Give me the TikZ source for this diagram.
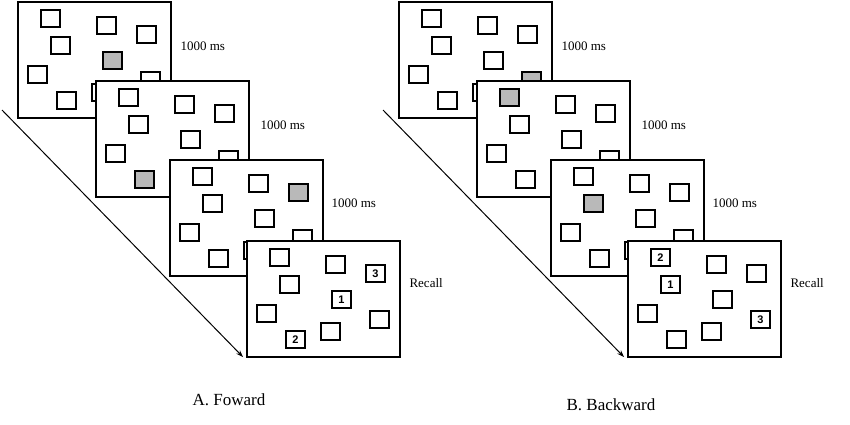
\documentclass[tikz,border=0pt]{standalone}
\usepackage{fontspec}
\usetikzlibrary{arrows.meta}
\setmainfont{Liberation Serif}
\newfontfamily\numf{Liberation Sans}
\begin{document}
\begin{tikzpicture}[x=1pt,y=-1pt,
  frame/.style={draw=black,fill=white,line width=1.3pt},
  sq/.style={draw=black,fill=white,line width=1.8pt,minimum width=19pt,minimum height=17pt,inner sep=0pt,anchor=north west,font=\numf\bfseries\fontsize{11}{11}\selectfont},
  gsq/.style={sq,fill=gray!55},
  lab/.style={font=\fontsize{13}{13}\selectfont,anchor=west},
  captxt/.style={font=\fontsize{17}{17}\selectfont}]
\useasboundingbox (0,0) rectangle (850,424);
\foreach \P/\pn in {0/a,381/b}{
  \coordinate (\pn s) at (\P+2,110);
  \coordinate (\pn e) at (\P+243,357);
  \draw[line width=1pt,-{Stealth[length=7pt,width=5pt]}] (\pn s) -- (\pn e);
}
% Panel A
\foreach \k/\fx/\fy/\g in {1/18/2/5,2/96/81/8,3/170/160/3}{
  \begin{scope}[shift={(\fx,\fy)}]
    \draw[frame] (0,0) rectangle (153,116);
    \foreach \i/\dx/\dy in {1/22/7,2/78/14,3/118/23,4/32/34,5/84/49,6/9/63,7/122/69,8/38/89,9/73/81}{
      \ifnum\i=\g\relax\node[gsq] (a\k s\i) at (\dx,\dy) {};\else\node[sq] (a\k s\i) at (\dx,\dy) {};\fi}
  \end{scope}}
\begin{scope}[shift={(247,241)}]
  \draw[frame] (0,0) rectangle (153,116);
  \foreach \i/\dx/\dy/\t in {1/22/7/,2/78/14/,3/118/23/3,4/32/34/,5/84/49/1,6/9/63/,7/122/69/,8/38/89/2,9/73/81/}{
    \node[sq] (a4s\i) at (\dx,\dy) {\t};}
\end{scope}
% Panel B
\foreach \k/\fx/\fy/\g in {1/399/2/7,2/477/81/1,3/551/160/4}{
  \begin{scope}[shift={(\fx,\fy)}]
    \draw[frame] (0,0) rectangle (153,116);
    \foreach \i/\dx/\dy in {1/22/7,2/78/14,3/118/23,4/32/34,5/84/49,6/9/63,7/122/69,8/38/89,9/73/81}{
      \ifnum\i=\g\relax\node[gsq] (b\k s\i) at (\dx,\dy) {};\else\node[sq] (b\k s\i) at (\dx,\dy) {};\fi}
  \end{scope}}
\begin{scope}[shift={(628,241)}]
  \draw[frame] (0,0) rectangle (153,116);
  \foreach \i/\dx/\dy/\t in {1/22/7/2,2/78/14/,3/118/23/,4/32/34/1,5/84/49/,6/9/63/,7/122/69/3,8/38/89/,9/73/81/}{
    \node[sq] (b4s\i) at (\dx,\dy) {\t};}
\end{scope}
% labels
\foreach \P/\pn in {0/a,381/b}{
  \node[lab] (\pn l1) at (\P+177,46) {1000 ms};
  \node[lab] (\pn l2) at (\P+257,125) {1000 ms};
  \node[lab] (\pn l3) at (\P+328,203) {1000 ms};
  \node[lab] (\pn l4) at (\P+406,283) {Recall};
}
\node[captxt] (ca) at (229,400) {A. Foward};
\node[captxt] (cb) at (611,405) {B. Backward};
\end{tikzpicture}
\end{document}
